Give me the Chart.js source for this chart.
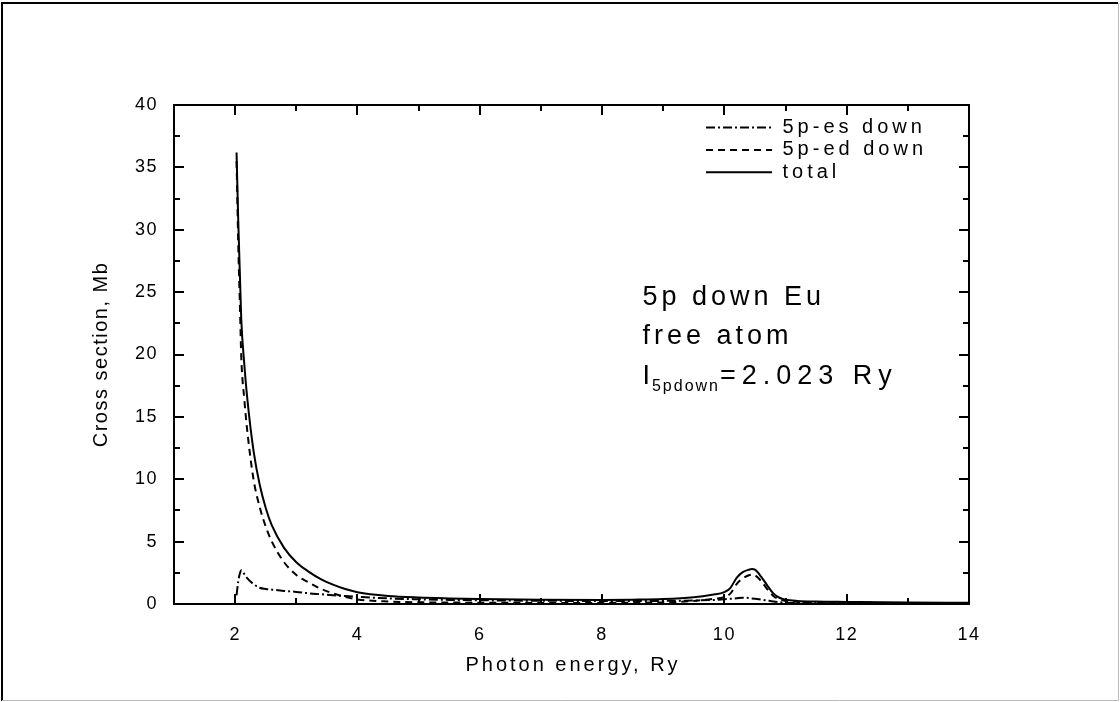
<!DOCTYPE html>
<html>
<head>
<meta charset="utf-8">
<title>5p down Eu cross section</title>
<script src="https://cdn.jsdelivr.net/npm/chart.js@4.4.1/dist/chart.umd.min.js"></script>
<style>
  html, body { margin: 0; padding: 0; background: #fff; }
  #chartBox { width: 1120px; height: 702px; position: relative; }
</style>
</head>
<body>
<div id="chartBox"><canvas id="myChart"></canvas></div>
<script>
const FONT = "'Liberation Sans', Arial, Helvetica, sans-serif";

// photon energy grid, Ry
const energy = [
  2.023, 2.05, 2.08, 2.1, 2.15, 2.2, 2.3, 2.4, 2.5, 2.6, 2.8, 3.0, 3.2, 3.4, 3.6,
  3.8, 4.0, 4.5, 5.0, 5.5, 6.0, 7.0, 8.0, 8.5, 9.0, 9.5, 9.8, 10.0, 10.1, 10.2,
  10.3, 10.4, 10.45, 10.5, 10.6, 10.7, 10.8, 10.9, 11.0, 11.2, 11.5, 12.0, 13.0, 14.0
];

// cross sections, Mb
const esDown = [
  0.7, 1.8, 2.5, 2.7, 2.4, 2.05, 1.6, 1.3, 1.2, 1.15, 1.05, 0.97, 0.86, 0.78, 0.7,
  0.64, 0.58, 0.45, 0.38, 0.33, 0.3, 0.26, 0.24, 0.24, 0.25, 0.28, 0.32, 0.38, 0.42, 0.46,
  0.5, 0.48, 0.45, 0.42, 0.36, 0.28, 0.2, 0.14, 0.1, 0.08, 0.07, 0.06, 0.05, 0.04
];

const edDown = [
  35.5, 29.0, 23.5, 19.8, 16.4, 13.8, 10.0, 7.8, 6.2, 5.0, 3.35, 2.33, 1.74, 1.22, 0.85,
  0.56, 0.37, 0.2, 0.14, 0.12, 0.1, 0.09, 0.09, 0.1, 0.13, 0.25, 0.4, 0.55, 0.85, 1.6,
  2.05, 2.3, 2.35, 2.3, 1.85, 1.2, 0.65, 0.36, 0.25, 0.17, 0.13, 0.11, 0.07, 0.06
];

const total = [
  36.2, 30.8, 26.0, 22.8, 19.2, 16.4, 12.3, 9.6, 7.7, 6.3, 4.5, 3.35, 2.6, 2.0, 1.55,
  1.2, 0.95, 0.65, 0.52, 0.45, 0.4, 0.35, 0.33, 0.35, 0.4, 0.55, 0.75, 0.95, 1.3, 2.1,
  2.55, 2.75, 2.8, 2.75, 2.2, 1.5, 0.85, 0.5, 0.35, 0.25, 0.2, 0.17, 0.12, 0.1
];

const xTicks = [2, 4, 6, 8, 10, 12, 14];
const xMinorTicks = [3, 5, 7, 9, 11, 13];
const yTicks = [0, 5, 10, 15, 20, 25, 30, 35, 40];
const yMinorTicks = [2.5, 7.5, 12.5, 17.5, 22.5, 27.5, 32.5, 37.5];

const seriesNames = ["5p-es down", "5p-ed down", "total"];
const noteLines = ["5p down Eu", "free atom"];

function toPoints(values) {
  return energy.map((e, i) => ({ x: e, y: values[i] }));
}

const data = {
  datasets: [
    {
      label: seriesNames[0],
      data: toPoints(esDown),
      borderColor: "#000",
      borderWidth: 2,
      borderDash: [9, 3, 2, 3],
    },
    {
      label: seriesNames[1],
      data: toPoints(edDown),
      borderColor: "#000",
      borderWidth: 2,
      borderDash: [7, 5],
    },
    {
      label: seriesNames[2],
      data: toPoints(total),
      borderColor: "#000",
      borderWidth: 2,
      borderDash: [],
    },
  ],
};

// box, inward ticks, legend and the text note
const decor = {
  id: "decor",
  beforeDraw(chart) {
    chart.ctx.letterSpacing = "1.5px";
  },
  afterDraw(chart) {
    const { ctx, chartArea: a } = chart;
    const x = chart.scales.x;
    const y = chart.scales.y;
    ctx.save();
    ctx.letterSpacing = "0px";
    ctx.fillStyle = "#000";
    ctx.strokeStyle = "#000";

    // outer frame
    ctx.lineWidth = 2;
    ctx.beginPath();
    ctx.moveTo(2, 701);
    ctx.lineTo(2, 3);
    ctx.lineTo(1118, 3);
    ctx.stroke();
    ctx.strokeStyle = "#bbb";
    ctx.lineWidth = 1;
    ctx.beginPath();
    ctx.moveTo(1118.5, 3);
    ctx.lineTo(1118.5, 700.5);
    ctx.lineTo(2, 700.5);
    ctx.stroke();

    // plot box
    ctx.strokeStyle = "#000";
    ctx.lineWidth = 2;
    ctx.strokeRect(a.left, a.top, a.right - a.left, a.bottom - a.top);

    ctx.beginPath();
    const tickX = (v, len) => {
      const px = Math.round(x.getPixelForValue(v));
      ctx.moveTo(px, a.bottom);
      ctx.lineTo(px, a.bottom - len);
      ctx.moveTo(px, a.top);
      ctx.lineTo(px, a.top + len);
    };
    const tickY = (v, len) => {
      const py = Math.round(y.getPixelForValue(v));
      ctx.moveTo(a.left, py);
      ctx.lineTo(a.left + len, py);
      ctx.moveTo(a.right, py);
      ctx.lineTo(a.right - len, py);
    };
    xTicks.forEach((v) => tickX(v, 10));
    xMinorTicks.forEach((v) => tickX(v, 6));
    yTicks.forEach((v) => tickY(v, 10));
    yMinorTicks.forEach((v) => tickY(v, 6));
    ctx.stroke();

    // axis titles
    ctx.textAlign = "center";
    ctx.textBaseline = "middle";
    ctx.font = "20px " + FONT;
    ctx.letterSpacing = "3px";
    ctx.fillText("Photon energy, Ry", (a.left + a.right) / 2 + 1.5, 665);
    ctx.save();
    ctx.translate(101, (a.top + a.bottom) / 2);
    ctx.rotate(-Math.PI / 2);
    ctx.letterSpacing = "1.5px";
    ctx.fillText("Cross section, Mb", 0, 0);
    ctx.restore();

    // legend
    const rows = [38.2, 36.4, 34.6];
    ctx.font = "20px " + FONT;
    ctx.letterSpacing = "4px";
    ctx.textAlign = "left";
    chart.data.datasets.forEach((ds, i) => {
      const py = y.getPixelForValue(rows[i]);
      ctx.setLineDash(ds.borderDash);
      ctx.lineWidth = 2;
      ctx.beginPath();
      ctx.moveTo(x.getPixelForValue(9.7), py);
      ctx.lineTo(x.getPixelForValue(10.78), py);
      ctx.stroke();
      ctx.setLineDash([]);
      ctx.fillText(ds.label, x.getPixelForValue(10.95), py);
    });

    // note
    ctx.font = "27px " + FONT;
    ctx.letterSpacing = "4px";
    const nx = x.getPixelForValue(8.66);
    ctx.fillText(noteLines[0], nx, y.getPixelForValue(24.6));
    ctx.fillText(noteLines[1], nx, y.getPixelForValue(21.4));
    const ly = y.getPixelForValue(18.2);
    ctx.fillText("I", nx, ly);
    let cx = nx + ctx.measureText("I").width;
    ctx.font = "16px " + FONT;
    ctx.letterSpacing = "2px";
    ctx.fillText("5pdown", cx - 2, ly + 10);
    cx += ctx.measureText("5pdown").width - 2;
    ctx.font = "27px " + FONT;
    ctx.letterSpacing = "6px";
    ctx.fillText("=2.023 Ry", cx, ly);
    ctx.restore();
  },
};

const config = {
  type: "scatter",
  data,
  options: {
    responsive: true,
    maintainAspectRatio: false,
    animation: false,
    layout: { padding: { left: 0, top: 105, right: 151, bottom: 0 } },
    elements: {
      point: { radius: 0, hoverRadius: 0 },
      line: { cubicInterpolationMode: "monotone" },
    },
    datasets: { scatter: { showLine: true } },
    plugins: {
      legend: { display: false },
      tooltip: { enabled: false },
    },
    scales: {
      x: {
        type: "linear",
        min: 1,
        max: 14,
        afterBuildTicks: (scale) => {
          scale.ticks = xTicks.map((v) => ({ value: v }));
        },
        afterFit: (scale) => {
          scale.height = 98;
        },
        grid: { display: false },
        border: { display: false },
        ticks: {
          color: "#000",
          padding: 12,
          maxRotation: 0,
          font: { family: FONT, size: 18 },
        },
      },
      y: {
        type: "linear",
        min: 0,
        max: 40,
        afterBuildTicks: (scale) => {
          scale.ticks = yTicks.map((v) => ({ value: v }));
        },
        afterFit: (scale) => {
          scale.width = 174;
        },
        grid: { display: false },
        border: { display: false },
        ticks: {
          color: "#000",
          padding: 8,
          font: { family: FONT, size: 18 },
        },
      },
    },
  },
  plugins: [decor],
};

const myChart = new Chart(document.getElementById("myChart"), config);
</script>
</body>
</html>
